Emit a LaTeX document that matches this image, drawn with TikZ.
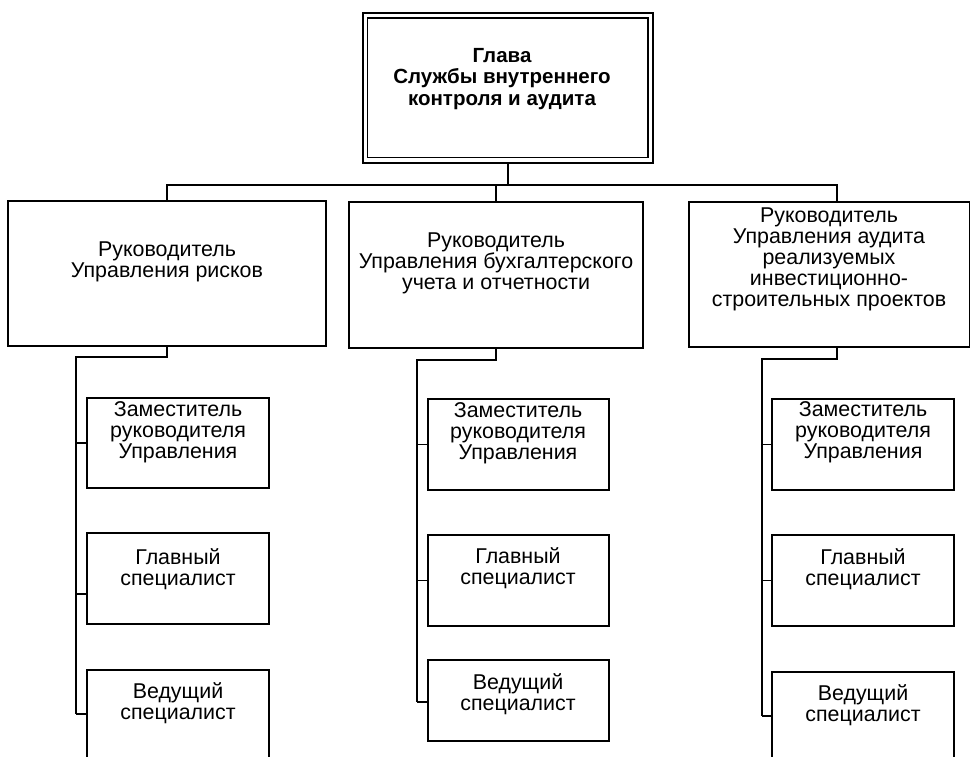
\documentclass[tikz,border=0pt]{standalone}
\usepackage{fontspec}
\setmainfont{Liberation Sans}
\usetikzlibrary{fit}
\begin{document}
\begin{tikzpicture}[x=1pt,y=-1pt,
  box/.style={draw, line width=1.3pt, inner sep=0pt},
  txt/.style={align=center, font=\fontsize{21.4}{21}\selectfont, inner sep=0pt},
  conn/.style={line width=1.3pt},
  trunk/.style={line width=2.6pt}]
\useasboundingbox (0,0) rectangle (971,756);
\clip (0,0) rectangle (971,756);
% top box
\node[box, line width=1.7pt, fit={(363,13)(653,163)}] (top) {};
\node[box, fit={(367.5,18)(648,157.5)}] (topin) {};
\node[txt, font=\bfseries\fontsize{20.5}{21.5}\selectfont] (ttop) at (502,79) {Глава\\Службы внутреннего\\контроля и аудита};
% main boxes
\node[box, fit={(8,201)(326,346)}] (m1) {};
\node[box, fit={(349,202)(643,348)}] (m2) {};
\node[box, fit={(689,202)(969.5,347)}] (m3) {};
\node[txt] (t1) at (167,262) {Руководитель\\Управления рисков};
\node[txt] (t2) at (496,263) {Руководитель\\Управления бухгалтерского\\учета и отчетности};
\node[txt] (t3) at (829,259) {Руководитель\\Управления аудита\\реализуемых\\инвестиционно-\\строительных проектов};
% sub boxes left
\node[box, fit={(87,398)(269,488)}] (z1) {};
\node[box, fit={(87,533)(269,624)}] (g1) {};
\node[box, fit={(87,670)(269,762)}] (v1) {};
% sub boxes middle
\node[box, fit={(428,399)(609,490)}] (z2) {};
\node[box, fit={(428,535)(609,626)}] (g2) {};
\node[box, fit={(428,660)(609,741)}] (v2) {};
% sub boxes right
\node[box, fit={(772,399)(954,490)}] (z3) {};
\node[box, fit={(772,535)(954,626)}] (g3) {};
\node[box, fit={(772,672)(954,762)}] (v3) {};
% sub texts
\node[txt] (zt1) at (178,432) {Заместитель\\руководителя\\Управления};
\node[txt] (gt1) at (178,569) {Главный\\специалист};
\node[txt] (vt1) at (178,703.5) {Ведущий\\специалист};
\node[txt] (zt2) at (518,433.5) {Заместитель\\руководителя\\Управления};
\node[txt] (gt2) at (518,568.5) {Главный\\специалист};
\node[txt] (vt2) at (518,694) {Ведущий\\специалист};
\node[txt] (zt3) at (863,432.5) {Заместитель\\руководителя\\Управления};
\node[txt] (gt3) at (863,569.5) {Главный\\специалист};
\node[txt] (vt3) at (863,705.5) {Ведущий\\специалист};
% bus
\coordinate (bus) at (508,185);
\coordinate (busL) at (167,185);
\coordinate (busR) at (837,185);
\draw[trunk] (top.south) -- (bus);
\draw[conn] (m1.north) -- (busL) -- (busR) -- (busR |- m3.north);
\draw[conn] (m2.north) -- (m2.north |- bus);
% left column
\coordinate (c1) at (76,357);
\coordinate (e1) at (76,714);
\coordinate (s1g) at (76,594);
\draw[trunk] (m1.south) |- (c1) -- (e1);
\draw[conn] (c1 |- z1.west) -- (z1.west);
\draw[conn] (s1g) -- (s1g -| g1.west);
\draw[conn] (e1) -- (e1 -| v1.west);
% middle column
\coordinate (c2) at (417,360);
\coordinate (e2) at (417,702);
\draw[trunk] (m2.south) |- (c2) -- (e2);
\draw[conn] (c2 |- z2.west) -- (z2.west);
\draw[conn] (c2 |- g2.west) -- (g2.west);
\draw[conn] (e2) -- (e2 -| v2.west);
% right column
\coordinate (c3) at (762,359);
\coordinate (e3) at (762,716);
\draw[trunk] (m3.south -| busR) |- (c3) -- (e3);
\draw[conn] (c3 |- z3.west) -- (z3.west);
\draw[conn] (c3 |- g3.west) -- (g3.west);
\draw[conn] (e3) -- (e3 -| v3.west);
\end{tikzpicture}
\end{document}
